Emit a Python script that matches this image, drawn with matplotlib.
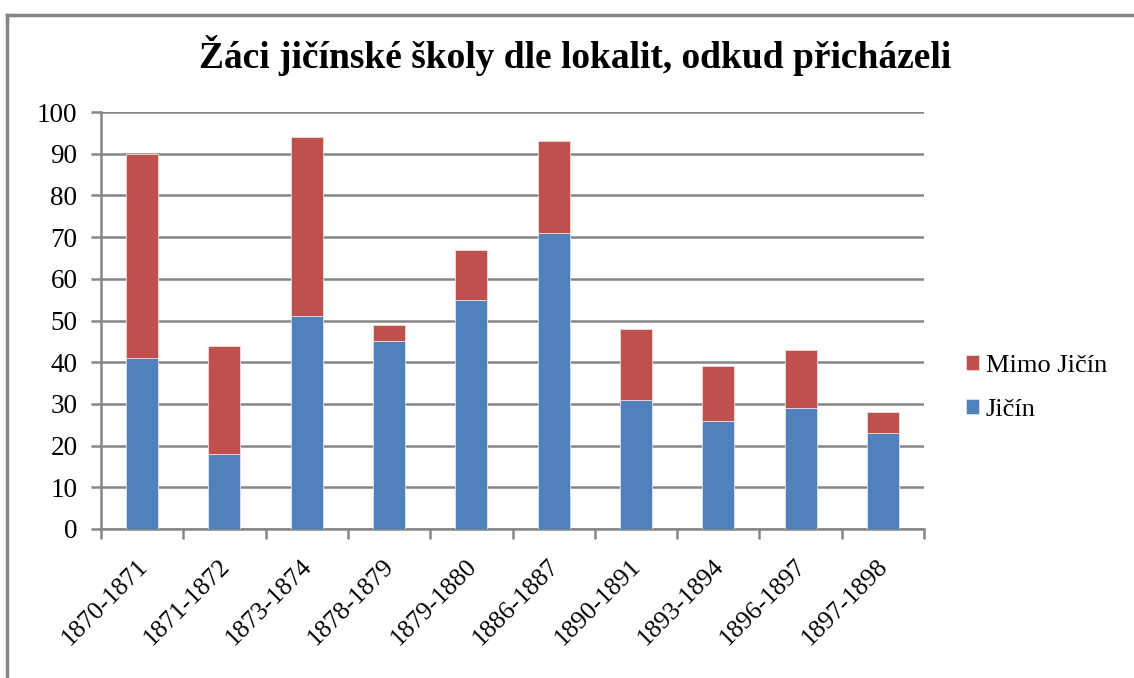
import numpy as np
import matplotlib.transforms as mtransforms
from matplotlib import pyplot as plt
from matplotlib.lines import Line2D

years = ['1870-1871', '1871-1872', '1873-1874', '1878-1879', '1879-1880',
         '1886-1887', '1890-1891', '1893-1894', '1896-1897', '1897-1898']
jicin = [41, 18, 51, 45, 55, 71, 31, 26, 29, 23]
mimo = [49, 26, 43, 4, 12, 22, 17, 13, 14, 5]

plt.rcParams['font.family'] = ['Liberation Serif', 'DejaVu Serif']

fig = plt.figure(figsize=(11.34, 6.78), dpi=100)
ax = fig.add_axes([101 / 1134, 1 - 529 / 678, 823 / 1134, 417 / 678])

grey = '#868686'
x = np.arange(len(years))
ax.bar(x, jicin, width=0.39, color='#4F81BD', edgecolor='#dce6f2', linewidth=0.6,
       label='Jičín', zorder=3)
ax.bar(x, mimo, width=0.39, bottom=jicin, color='#C0504D', edgecolor='#f2dcdb',
       linewidth=0.6, label='Mimo Jičín', zorder=3)

ax.set_xlim(-0.5, len(years) - 0.5)
ax.set_ylim(0, 100)
ax.set_yticks(range(0, 101, 10))
ax.yaxis.grid(True, color=grey, linewidth=1.8, zorder=0)
ax.tick_params(axis='y', labelsize=19.5, length=7, width=1.8, color=grey, pad=10)

ax.set_xticks(x)
ax.set_xticklabels(years, rotation=45, ha='right', va='top', fontsize=18.5,
                   rotation_mode='anchor')
ax.set_xticks(np.arange(-0.5, len(years)), minor=True)
ax.tick_params(axis='x', which='major', length=0, pad=19)
ax.tick_params(axis='x', which='minor', length=7, width=1.8, color=grey)
shift = mtransforms.ScaledTranslation(-0.06, 0, fig.dpi_scale_trans)
for lbl in ax.get_xticklabels():
    lbl.set_transform(lbl.get_transform() + shift)

for s in ['top', 'right']:
    ax.spines[s].set_visible(False)
for s in ['left', 'bottom']:
    ax.spines[s].set_color(grey)
    ax.spines[s].set_linewidth(1.8)

fig.text(575 / 1134, 1 - 55 / 678, 'Žáci jičínské školy dle lokalit, odkud přicházeli',
         ha='center', va='center', fontsize=27, fontweight='bold')

handles, labels = ax.get_legend_handles_labels()
fig.legend(handles[::-1], labels[::-1], loc='center left',
           bbox_to_anchor=(942 / 1134, 1 - 388 / 678), frameon=False, fontsize=19,
           handlelength=0.5, handleheight=0.5, handletextpad=0.25, labelspacing=0.85)

# outer frame (top and left edges only visible)
fig.add_artist(Line2D([7 / 1134, 1.0], [1 - 15 / 678, 1 - 15 / 678],
                      transform=fig.transFigure, color=grey, linewidth=2.5))
fig.add_artist(Line2D([7 / 1134, 7 / 1134], [0, 1 - 15 / 678],
                      transform=fig.transFigure, color=grey, linewidth=2.5))

plt.savefig('out.png')
